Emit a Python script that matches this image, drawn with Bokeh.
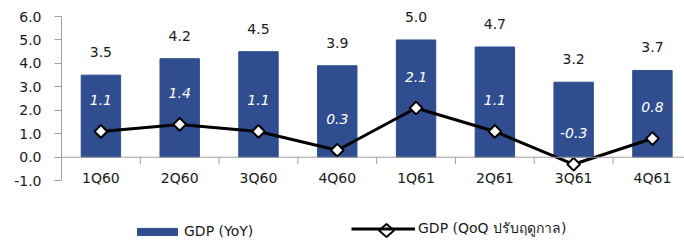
from bokeh.plotting import figure
from bokeh.models import (Range1d, FixedTicker, PrintfTickFormatter, Span, Legend,
                          LegendItem, ColumnDataSource, PolyAnnotation)
from bokeh.core.properties import value
from bokeh.embed import file_html
from bokeh.resources import INLINE
import math

quarters = ["1Q60", "2Q60", "3Q60", "4Q60", "1Q61", "2Q61", "3Q61", "4Q61"]
gdp_yoy = [3.5, 4.2, 4.5, 3.9, 5.0, 4.7, 3.2, 3.7]
gdp_qoq = [1.1, 1.4, 1.1, 0.3, 2.1, 1.1, -0.3, 0.8]
y_ticks = [-1, 0, 1, 2, 3, 4, 5, 6]
yoy_name = "GDP (YoY)"
qoq_name = "GDP (QoQ ปรับฤดูกาล)"

FONT = "DejaVu Sans, Noto Sans, sans-serif"
BAR = "#2f4d8f"
AXIS = "#a0a0a0"
TXT = "#1a1a1a"

idx = list(range(len(quarters)))
src = ColumnDataSource(dict(
    x=idx, q=quarters, yoy=gdp_yoy, qoq=gdp_qoq,
    yoy_s=[f"{v:.1f}" for v in gdp_yoy],
    qoq_s=[f"{v:.1f}" for v in gdp_qoq],
    zero=[0] * len(idx),
))
bsrc = ColumnDataSource(dict(xb=[i + 0.5 for i in idx[:-1]], zb=[0] * (len(idx) - 1)))

p = figure(width=684, height=242, output_backend="svg", toolbar_location=None,
           x_axis_type=None, x_range=Range1d(-0.5, 7.407), y_range=Range1d(-3.635, 6.512),
           min_border_left=61, min_border_right=0, min_border_top=4, min_border_bottom=0)
p.outline_line_color = None
p.xgrid.visible = False
p.ygrid.visible = False

ya = p.yaxis[0]
ya.bounds = (-1, 6)
ya.ticker = FixedTicker(ticks=y_ticks)
ya.formatter = PrintfTickFormatter(format="%.1f")
ya.axis_line_color = AXIS
ya.major_tick_line_color = AXIS
ya.major_tick_out = 7
ya.major_tick_in = 0
ya.minor_tick_line_color = None
ya.major_label_standoff = 13
ya.major_label_text_font = FONT
ya.major_label_text_font_size = "14px"
ya.major_label_text_color = TXT

bars = p.vbar(x="x", top="yoy", width=0.5, source=src, fill_color=BAR, line_color=BAR)

# x axis at zero
p.add_layout(Span(location=0, dimension="width", line_color=AXIS, line_width=1))
p.ray(x="xb", y="zb", length=7, length_units="screen", angle=-math.pi / 2,
      source=bsrc, line_color=AXIS, line_width=1)
p.text(x="x", y="zero", text="q", source=src, y_offset=21, text_align="center",
       text_baseline="middle", text_font=value(FONT), text_font_size="14px", text_color=TXT)

line = p.line(x="x", y="qoq", source=src, line_color="black", line_width=3)
pts = p.scatter(x="x", y="qoq", source=src, marker="square", angle=math.pi / 4, size=9,
                fill_color="white", line_color="black", line_width=2)

p.text(x="x", y="yoy", text="yoy_s", source=src, y_offset=-23, text_align="center",
       text_baseline="middle", text_font=value(FONT), text_font_size="14px", text_color=TXT)
p.text(x="x", y="qoq", text="qoq_s", source=src, y_offset=-31, text_align="center",
       text_baseline="middle", text_font=value(FONT), text_font_size="14px",
       text_font_style="italic", text_color="white")

leg1 = Legend(items=[LegendItem(label=yoy_name, renderers=[bars])], location=(71, 3),
              orientation="horizontal", glyph_width=50, glyph_height=9, label_standoff=2,
              padding=0, margin=0, border_line_color=None, background_fill_alpha=0,
              label_text_font=FONT, label_text_font_size="14px", label_text_color=TXT)
leg2 = Legend(items=[LegendItem(label=qoq_name, renderers=[line])], location=(290, 3),
              orientation="horizontal", glyph_width=64, glyph_height=9, label_standoff=3,
              padding=0, margin=0, border_line_color=None, background_fill_alpha=0,
              label_text_font=FONT, label_text_font_size="14px", label_text_color=TXT)
p.add_layout(leg1)
p.add_layout(leg2)

# diamond symbol of the legend's line item (legend glyphs are never rotated)
cx, cy = 386, 230
p.add_layout(PolyAnnotation(xs=[cx - 7.5, cx, cx + 7.5, cx], ys=[cy, cy - 6.5, cy, cy + 6.5],
                            xs_units="canvas", ys_units="canvas",
                            fill_color="white", fill_alpha=1, line_color="black",
                            line_alpha=1, line_width=2))

open("out.html", "w").write(file_html(p, INLINE))
